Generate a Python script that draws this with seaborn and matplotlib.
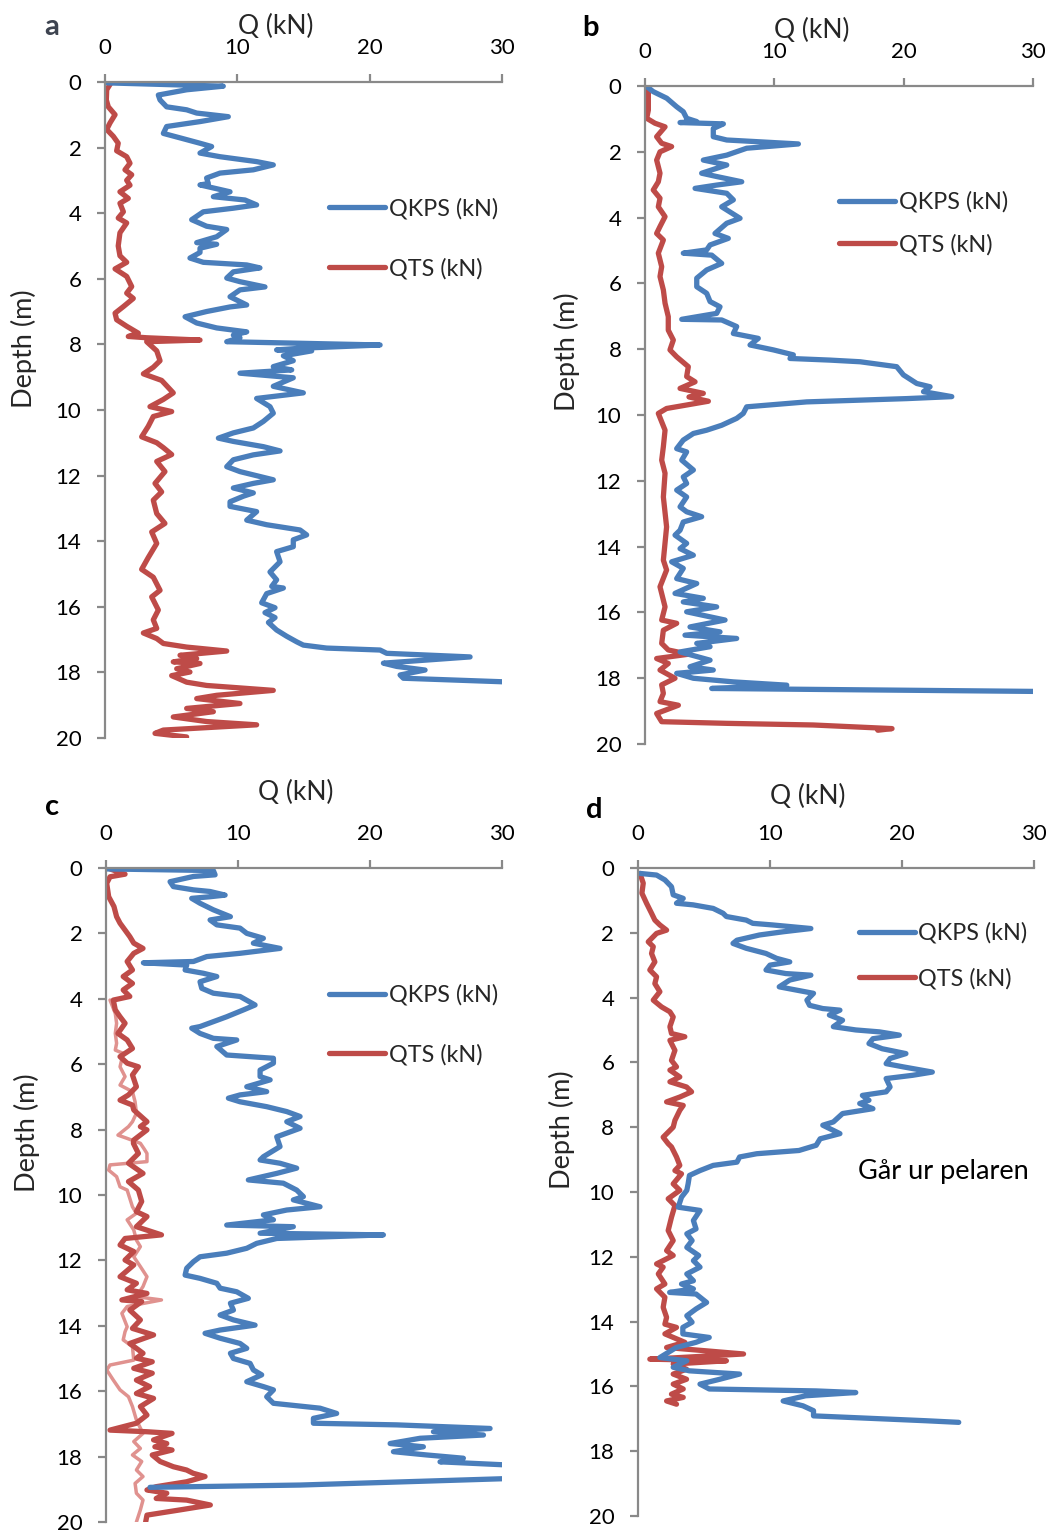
import matplotlib
matplotlib.use("Agg")
import matplotlib.pyplot as plt
from matplotlib.lines import Line2D
import numpy as np
import seaborn as sns

# ---------------- data (depth in m, Q in kN) ----------------
a_kps_depth = [0.03,0.13,0.24,0.4,0.55,0.76,0.85,0.95,1.06,1.21,1.36,1.57,1.72,1.87,1.97,2.17,2.28,2.43,2.53,2.68,2.78,2.93,3.1,3.14,3.35,3.5,3.6,3.75,3.85,3.96,4.2,4.4,4.5,4.72,4.9,4.95,5.07,5.2,5.37,5.5,5.58,5.67,5.79,5.98,6.09,6.25,6.34,6.55,6.8,6.86,7.0,7.16,7.35,7.5,7.62,7.72,7.8,7.92,8.02,8.12,8.17,8.2,8.35,8.5,8.68,8.78,8.88,9.02,9.28,9.48,9.65,9.9,10.1,10.35,10.55,10.7,10.86,10.96,11.12,11.25,11.37,11.52,11.73,11.88,12.13,12.24,12.38,12.53,12.63,12.8,12.94,13.1,13.36,13.5,13.66,13.81,13.96,14.17,14.32,14.63,14.94,15.18,15.38,15.43,15.6,15.88,16.03,16.18,16.33,16.48,16.71,16.9,17.07,17.17,17.26,17.32,17.42,17.53,17.72,17.82,17.93,18.08,18.18,18.33]
a_kps = [0.2,8.94,6.17,4.03,4.16,4.66,6.17,6.93,9.32,7.18,4.66,4.41,5.8,7.18,8.06,7.18,8.69,11.46,12.72,11.21,8.69,7.68,7.81,7.18,9.45,8.19,10.58,11.46,9.7,7.43,6.55,7.68,9.2,8.44,6.93,8.44,7.18,7.18,6.42,7.43,10.71,11.71,9.7,9.2,10.2,12.09,10.2,9.45,10.71,9.45,7.68,6.05,6.93,8.44,10.71,9.7,10.2,9.2,20.79,14.74,12.97,15.62,13.48,14.23,12.72,14.11,10.2,14.23,12.72,14.99,11.46,12.47,12.72,11.97,11.21,9.7,8.57,9.7,11.97,13.23,11.21,9.7,9.2,10.2,12.72,11.21,9.7,11.21,10.46,9.45,9.45,11.46,10.71,12.22,14.74,15.24,14.23,14.23,12.97,13.23,12.47,12.97,12.6,13.48,12.22,11.84,12.85,12.09,12.85,12.35,12.97,13.73,14.49,14.99,16.75,20.79,21.29,27.59,21.04,22.05,24.19,22.3,22.55,33.0]

a_ts_depth = [0.03,0.24,0.55,0.76,1.0,1.25,1.45,1.66,1.87,2.1,2.28,2.48,2.68,2.83,3.0,3.15,3.35,3.55,3.7,3.96,4.15,4.3,4.6,5.0,5.3,5.5,5.7,5.93,6.24,6.44,6.6,6.85,7.05,7.25,7.45,7.66,7.76,7.8,7.87,7.92,8.2,8.5,8.7,8.9,9.1,9.48,9.68,9.9,10.05,10.2,10.5,10.82,11.0,11.15,11.36,11.57,11.88,12.24,12.5,12.75,13.16,13.46,13.72,14.07,14.5,14.86,15.1,15.5,15.7,16.1,16.4,16.66,16.8,16.97,17.12,17.23,17.35,17.48,17.58,17.68,17.73,17.89,17.99,18.1,18.3,18.4,18.55,18.7,18.8,18.95,19.1,19.2,19.36,19.5,19.6,19.76,19.86,19.97]
a_ts = [0.45,0.13,0.1,0.25,0.76,0.38,0.13,0.63,1.0,0.88,1.64,1.89,1.51,2.02,1.64,1.89,1.13,1.76,1.13,1.39,1.0,1.64,1.13,1.0,1.13,1.64,0.76,1.64,2.02,1.64,2.14,1.39,0.76,0.88,1.64,2.52,1.76,3.15,7.18,3.15,3.91,4.16,3.65,2.9,4.28,5.16,4.41,3.4,5.04,3.65,3.27,2.77,3.91,4.41,5.04,3.91,4.53,3.78,4.28,3.65,3.91,4.53,3.53,3.91,3.27,2.77,3.65,4.16,3.53,4.03,3.65,3.91,2.9,3.91,4.41,6.17,9.2,5.67,6.93,5.16,7.18,5.42,6.42,5.04,6.17,7.68,12.72,8.44,6.93,10.2,6.17,8.19,5.16,7.68,11.46,4.41,3.78,6.17]

b_kps_depth = [0.0,0.17,0.37,0.63,0.78,0.98,1.08,1.11,1.15,1.29,1.54,1.64,1.76,1.89,2.1,2.25,2.4,2.65,2.75,2.91,3.01,3.11,3.26,3.46,3.67,4.02,4.17,4.48,4.63,4.83,4.98,5.08,5.14,5.39,5.59,5.84,6.1,6.3,6.55,6.71,6.91,7.09,7.11,7.31,7.52,7.67,7.87,8.02,8.17,8.28,8.33,8.38,8.53,8.78,9.04,9.14,9.29,9.44,9.5,9.6,9.75,9.95,10.1,10.31,10.46,10.56,10.76,11.02,11.12,11.37,11.67,11.88,12.08,12.28,12.49,12.79,12.94,13.09,13.25,13.5,13.65,13.9,14.06,14.26,14.46,14.66,14.97,15.12,15.42,15.57,15.68,15.83,15.98,16.23,16.44,16.59,16.69,16.79,16.94,17.04,17.2,17.45,17.65,17.75,17.85,18.0,18.11,18.21,18.31,18.41]
b_kps = [0.08,0.64,1.68,2.45,2.96,3.22,4.0,2.71,6.06,5.28,5.28,6.32,11.86,7.86,6.32,4.51,6.32,4.38,5.54,7.48,5.54,3.87,6.32,6.83,5.93,7.35,6.32,5.41,6.44,5.03,4.77,2.96,5.16,5.93,4.77,4.0,4.0,4.77,5.03,5.8,5.54,2.84,5.93,7.09,6.83,8.76,8.12,9.93,11.47,11.21,14.31,16.63,19.46,19.98,21.01,22.04,21.53,23.72,20.24,12.5,7.86,7.6,7.09,5.93,4.77,3.74,2.96,2.45,3.22,2.84,3.74,2.96,3.22,2.45,3.22,2.71,3.22,4.38,2.96,2.71,2.32,3.22,2.71,3.74,2.06,2.96,2.45,4.0,2.32,4.51,2.96,5.54,3.22,6.19,3.48,5.8,3.09,7.09,4.0,5.03,2.71,5.03,3.48,5.28,2.45,3.74,6.83,10.96,5.16,33.0]

b_ts_depth = [0.0,0.22,0.73,0.98,1.13,1.24,1.54,1.74,1.84,2.0,2.25,2.65,2.91,3.16,3.41,3.67,3.97,4.27,4.48,4.68,5.08,5.49,5.79,6.2,6.6,7.01,7.42,7.72,8.02,8.23,8.53,8.83,8.99,9.19,9.34,9.45,9.58,9.8,9.95,10.46,10.96,11.37,11.77,12.49,13.4,14.41,14.71,15.22,15.83,16.23,16.33,16.54,16.94,17.14,17.27,17.4,17.55,17.75,18.0,18.2,18.46,18.71,18.82,19.07,19.32,19.37,19.42,19.53,19.58]
b_ts = [0.08,0.26,0.26,0.13,0.77,1.55,0.9,1.29,2.06,1.16,0.9,1.16,1.03,0.64,1.16,1.03,1.55,1.16,0.9,1.42,1.03,1.29,1.16,1.42,1.55,1.8,1.8,2.19,1.93,2.45,3.35,3.22,3.87,2.71,4.51,3.4,4.9,1.67,1.03,1.55,1.42,1.29,1.55,1.42,1.67,1.42,1.67,1.16,1.55,1.29,2.45,1.42,1.29,1.8,3.35,0.9,1.8,1.16,2.32,1.29,1.42,1.16,2.58,0.9,1.29,6.3,13.0,19.1,18.0]

c_kps_depth = [0.03,0.08,0.21,0.26,0.42,0.57,0.67,0.72,0.83,0.88,0.93,1.08,1.28,1.49,1.59,1.74,1.84,2.0,2.15,2.3,2.46,2.61,2.71,2.86,2.9,2.97,3.12,3.22,3.32,3.48,3.68,3.83,3.93,4.19,4.34,4.55,4.7,4.85,4.9,5.06,5.21,5.26,5.46,5.72,5.82,5.97,6.18,6.38,6.48,6.69,6.84,6.94,7.04,7.15,7.3,7.45,7.6,7.76,7.96,8.22,8.52,8.83,8.93,9.03,9.18,9.34,9.54,9.64,9.85,10.05,10.15,10.36,10.46,10.61,10.76,10.92,10.97,11.17,11.22,11.33,11.48,11.63,11.78,11.89,12.04,12.24,12.45,12.55,12.7,12.85,12.96,13.16,13.31,13.52,13.67,13.82,13.98,14.13,14.23,14.38,14.54,14.69,14.84,15.0,15.15,15.35,15.5,15.71,15.86,15.96,16.17,16.37,16.52,16.68,16.83,16.98,17.03,17.14,17.24,17.34,17.44,17.6,17.7,17.85,17.95,18.05,18.16,18.26,18.45,18.67,18.87,18.94]
c_kps = [0.05,8.13,8.26,6.62,4.85,5.1,6.62,7.88,9.02,7.88,6.49,7.12,8.13,9.42,7.88,8.39,10.15,10.66,11.92,11.16,13.18,10.15,7.63,6.62,2.83,6.11,5.99,7.37,8.39,7.12,7.25,8.13,10.15,11.29,10.41,9.14,8.13,7.12,6.49,7.12,8.13,9.9,8.39,9.14,12.68,12.68,11.67,11.67,12.43,10.66,12.17,10.15,9.27,10.15,12.17,13.69,14.7,13.69,14.7,12.93,13.18,11.92,11.67,13.18,14.44,12.93,10.78,13.43,14.44,14.95,14.19,16.21,13.69,11.92,12.68,9.14,14.19,11.67,21.01,12.93,11.41,10.66,9.14,7.12,6.62,6.11,5.99,7.12,8.39,8.64,9.9,10.78,9.42,9.65,8.64,9.65,11.29,8.64,7.5,8.64,10.15,10.66,9.42,9.65,10.91,11.16,11.79,10.66,11.92,12.68,12.17,12.68,16.21,17.47,15.71,15.71,22.02,29.09,24.8,28.59,23.79,21.52,24.04,21.77,24.29,27.07,25.3,30.6,36.0,30.6,14.7,3.33]

c_ts_depth = [0.03,0.19,0.27,0.47,0.88,1.18,1.49,1.69,1.9,2.1,2.3,2.46,2.61,2.86,3.12,3.32,3.53,3.73,3.93,4.04,4.34,4.55,4.75,5.06,5.26,5.52,5.77,5.97,6.08,6.33,6.69,6.94,7.1,7.25,7.4,7.76,7.91,8.01,8.32,8.42,8.73,9.03,9.34,9.59,9.85,10.2,10.51,10.66,10.97,11.22,11.33,11.53,11.73,11.99,12.14,12.5,12.7,12.9,13.01,13.21,13.26,13.52,13.82,14.08,14.28,14.54,14.84,14.99,15.1,15.3,15.45,15.66,15.86,16.07,16.22,16.47,16.73,16.98,17.19,17.24,17.29,17.49,17.6,17.7,17.8,17.95,18.15,18.31,18.41,18.51,18.61,18.77,18.92,19.02,19.12,19.28,19.33,19.48,19.63,19.79,20.0]
c_ts = [0.3,1.44,0.3,0.05,0.2,0.6,0.8,1.06,1.44,1.8,2.1,2.8,2.1,1.6,2.0,1.3,2.0,1.3,1.8,0.55,0.7,1.06,1.44,0.9,1.6,2.0,1.06,1.6,2.45,2.0,2.3,1.7,1.06,2.0,2.1,3.1,2.6,3.1,2.1,2.07,2.45,1.7,2.8,1.7,2.45,2.7,2.3,3.1,2.3,4.2,1.44,1.06,2.1,1.44,2.1,1.06,2.3,1.6,3.1,1.2,2.7,1.8,2.6,2.0,3.6,1.8,2.8,2.3,3.5,2.1,3.5,2.3,3.3,2.3,3.6,2.6,3.1,2.3,0.3,3.1,5.0,3.6,4.6,3.7,5.0,3.5,4.1,5.1,6.1,6.6,7.5,6.1,3.8,3.1,4.6,3.8,6.1,7.9,5.6,3.1,3.0]

c_ts2_depth = [4.04,4.45,4.75,5.06,5.36,5.57,5.67,6.08,6.38,6.64,6.84,7.15,7.5,7.76,7.91,8.17,8.27,8.42,8.6,8.73,8.98,9.08,9.24,9.44,9.75,9.85,10.36,10.56,10.76,11.07,11.38,11.58,11.89,12.19,12.5,12.8,13.11,13.21,13.41,13.62,14.03,14.18,14.43,14.64,15.05,15.2,15.35,15.66,15.96,16.17,16.47,16.88,17.29,17.54,17.75,17.95,18.15,18.41,18.61,18.82,19.12,19.33,19.63,20.0]
c_ts2 = [0.3,0.7,0.8,0.7,0.8,0.7,1.3,1.06,1.44,1.06,2.0,2.2,2.3,2.0,1.7,0.9,1.6,2.6,2.9,3.1,3.1,0.3,0.2,0.8,1.06,1.6,2.0,2.3,1.6,2.1,2.3,2.6,2.1,2.6,3.1,2.8,2.3,4.2,1.6,1.2,1.6,1.44,1.3,2.0,2.1,0.3,0.05,0.55,1.06,1.7,2.0,2.3,2.8,2.1,2.6,2.0,2.7,2.3,2.8,2.2,2.3,2.8,2.6,2.3]

d_kps_depth = [0.17,0.22,0.37,0.58,0.83,0.94,1.09,1.14,1.25,1.4,1.5,1.61,1.71,1.76,1.87,1.97,2.07,2.23,2.33,2.48,2.64,2.79,2.9,3.0,3.15,3.26,3.31,3.46,3.67,3.77,3.87,4.08,4.24,4.34,4.39,4.54,4.7,4.9,5.0,5.06,5.16,5.27,5.42,5.58,5.73,5.88,6.04,6.14,6.3,6.4,6.5,6.76,6.91,7.02,7.17,7.27,7.43,7.58,7.84,7.94,8.2,8.36,8.56,8.72,8.82,8.92,9.08,9.18,9.34,9.49,9.75,9.95,10.16,10.47,10.57,10.88,11.14,11.29,11.5,11.71,11.96,12.12,12.32,12.53,12.74,12.84,12.99,13.1,13.15,13.41,13.61,13.82,14.02,14.18,14.38,14.49,14.64,14.8,15.11,15.21,15.41,15.52,15.62,15.78,15.93,16.08,16.14,16.19,16.29,16.45,16.6,16.75,16.91,17.06,17.11]
d_kps = [0.15,1.41,2.04,2.54,2.67,3.43,2.92,4.18,5.7,6.45,6.7,8.2,8.7,10.2,13.1,11.0,9.2,7.5,7.2,8.2,9.7,10.5,11.5,10.0,9.7,11.2,13.1,11.5,10.7,12.0,13.3,12.8,13.0,14.0,15.3,14.5,15.5,14.8,16.5,18.3,19.8,17.8,17.5,18.5,20.3,19.1,18.8,20.1,22.3,20.8,18.8,19.1,18.8,17.0,17.5,16.8,17.8,15.5,14.8,14.0,15.3,13.8,13.5,12.2,9.0,7.7,7.5,5.7,4.7,3.9,3.8,3.7,3.3,3.05,4.7,4.2,4.4,3.7,4.1,3.7,4.6,4.2,4.7,3.7,4.2,3.3,4.2,2.4,4.4,5.2,4.4,3.7,4.1,3.4,3.4,5.4,4.4,2.9,1.66,3.7,2.67,3.9,7.7,6.2,4.7,5.4,13.5,16.5,12.7,11.0,12.5,13.3,13.3,21.8,24.3]

d_ts_depth = [0.17,0.47,0.78,1.09,1.4,1.61,1.76,1.92,2.02,2.28,2.43,2.64,2.9,3.15,3.36,3.57,3.82,4.08,4.29,4.44,4.6,4.9,5.11,5.21,5.32,5.63,5.94,6.14,6.24,6.45,6.6,6.76,6.91,7.07,7.22,7.33,7.48,7.79,8.0,8.31,8.51,8.61,8.92,9.18,9.34,9.44,9.75,9.95,10.21,10.42,10.78,11.19,11.5,11.81,11.96,12.22,12.32,12.53,12.84,12.99,13.25,13.56,13.87,14.08,14.18,14.38,14.64,14.8,15.0,15.11,15.16,15.21,15.31,15.47,15.62,15.78,15.93,16.08,16.24,16.34,16.45,16.55]
d_ts = [0.15,0.4,0.3,0.65,1.03,1.28,1.66,2.17,1.41,0.78,1.16,1.03,1.28,0.9,1.41,1.28,1.66,1.16,1.79,2.42,2.67,2.42,2.54,3.55,2.42,2.8,2.54,2.92,2.42,3.17,2.42,3.68,4.06,3.17,2.17,3.43,3.17,2.8,2.67,1.91,2.29,2.54,2.92,3.17,2.8,3.3,2.67,3.17,2.29,2.8,2.54,2.29,2.67,2.17,2.67,1.41,1.91,1.54,2.04,1.41,2.04,1.91,2.17,2.04,2.92,2.04,3.55,2.17,8.0,3.17,0.9,6.7,2.67,3.68,2.67,3.68,2.67,3.43,2.54,3.43,2.17,2.92]

x_ticks = [0, 10, 20, 30]
y_ticks = [0, 2, 4, 6, 8, 10, 12, 14, 16, 18, 20]
x_label = "Q (kN)"
y_label = "Depth (m)"
kps_label = "QKPS (kN)"
ts_label = "QTS (kN)"
note_text = "Går ur pelaren"

# ---------------- style ----------------
sns.set_theme(style="white")
plt.rcParams["font.family"] = ["Lato", "DejaVu Sans"]

BLUE = "#4A7EBB"
RED = "#BE4B48"
PINK = "#E0928F"
GREY = "#898989"
LW = 3.8

fig = plt.figure(figsize=(10.51, 15.31), dpi=100)

panels = [
    dict(key="a", rect=[0.0999, 0.5180, 0.3777, 0.4285], lpos=(0.0495, 0.9824), lcol="#3E4450",
         xl=(0.43, 1.084), yl=(-0.205, 0.593), leg=(0.565, 0.823), ls=1.62,
         kps=(a_kps, a_kps_depth), ts=(a_ts, a_ts_depth), ts2=None),
    dict(key="b", rect=[0.6137, 0.5140, 0.3692, 0.4298], lpos=(0.5614, 0.9817), lcol="black",
         xl=(0.43, 1.085), yl=(-0.20, 0.596), leg=(0.50, 0.840), ls=0.88,
         kps=(b_kps, b_kps_depth), ts=(b_ts, b_ts_depth), ts2=None),
    dict(key="c", rect=[0.1009, 0.00588, 0.3768, 0.4272], lpos=(0.0495, 0.4729), lcol="black",
         xl=(0.48, 1.115), yl=(-0.20, 0.595), leg=(0.563, 0.822), ls=1.62,
         kps=(c_kps, c_kps_depth), ts=(c_ts, c_ts_depth), ts2=(c_ts2, c_ts2_depth)),
    dict(key="d", rect=[0.6070, 0.00980, 0.3768, 0.4233], lpos=(0.5652, 0.4709), lcol="black",
         xl=(0.43, 1.111), yl=(-0.192, 0.596), leg=(0.558, 0.916), ls=1.02,
         kps=(d_kps, d_kps_depth), ts=(d_ts, d_ts_depth), ts2=None),
]

for p in panels:
    ax = fig.add_axes(p["rect"])
    if p["ts2"] is not None:
        sns.lineplot(x=p["ts2"][0], y=p["ts2"][1], sort=False, estimator=None,
                     color=PINK, lw=2.5, ax=ax, solid_joinstyle="round", solid_capstyle="round")
    sns.lineplot(x=p["ts"][0], y=p["ts"][1], sort=False, estimator=None,
                 color=RED, lw=LW, ax=ax, solid_joinstyle="round", solid_capstyle="round")
    sns.lineplot(x=p["kps"][0], y=p["kps"][1], sort=False, estimator=None,
                 color=BLUE, lw=LW, ax=ax, solid_joinstyle="round", solid_capstyle="round")

    ax.set_xlim(0, 30)
    ax.set_ylim(20, 0)
    ax.set_xticks(x_ticks)
    ax.set_yticks(y_ticks)
    ax.xaxis.tick_top()
    ax.xaxis.set_label_position("top")
    for s in ["right", "bottom"]:
        ax.spines[s].set_visible(False)
    for s in ["top", "left"]:
        ax.spines[s].set_color(GREY)
        ax.spines[s].set_linewidth(1.6)
    ax.tick_params(axis="both", direction="out", length=6, width=1.6, color=GREY,
                   labelsize=16, labelcolor="black", pad=11)
    ax.tick_params(axis="x", bottom=False, top=True)
    ax.tick_params(axis="y", left=True, right=False)
    ax.grid(False)

    ax.set_xlabel(x_label, fontsize=19)
    ax.xaxis.label.set_va("center")
    ax.xaxis.set_label_coords(*p["xl"])
    ax.set_ylabel(y_label, fontsize=19.5)
    ax.yaxis.label.set_va("center")
    ax.yaxis.set_label_coords(*p["yl"])

    handles = [Line2D([], [], color=BLUE, lw=LW, solid_capstyle="round"),
               Line2D([], [], color=RED, lw=LW, solid_capstyle="round")]
    ax.legend(handles, [kps_label, ts_label], loc="upper left", bbox_to_anchor=p["leg"],
              frameon=False, fontsize=16.8, handlelength=2.4, handletextpad=0.15,
              labelspacing=p["ls"], borderaxespad=0, borderpad=0)

    if p["key"] == "d":
        ax.text(23.1, 9.37, note_text, ha="center", va="center", fontsize=19.5, color="black")

    fig.text(p["lpos"][0], p["lpos"][1], p["key"], ha="center", va="center",
             fontsize=21, fontweight="bold", color=p["lcol"])

fig.savefig("out.png", dpi=100)
